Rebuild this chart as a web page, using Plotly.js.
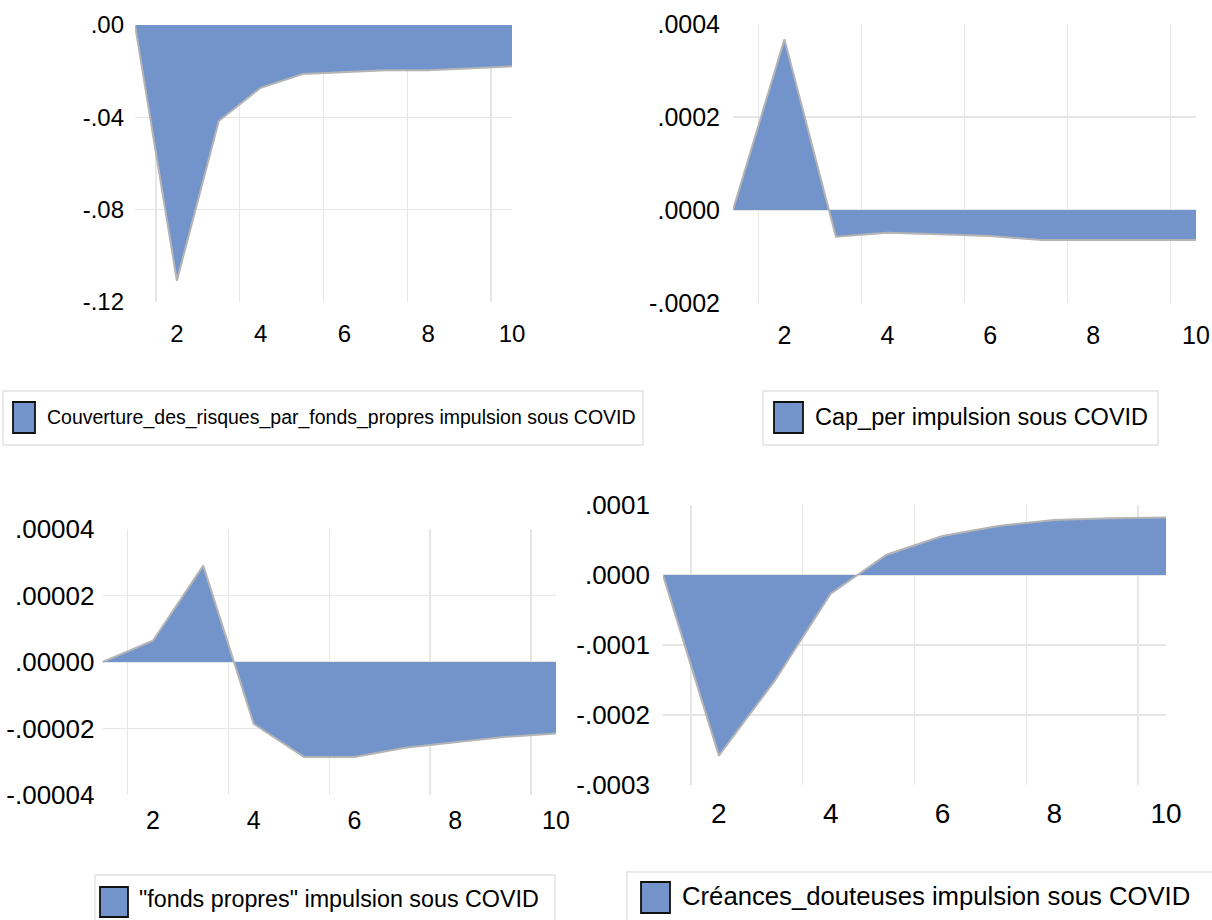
<!DOCTYPE html>
<html>
<head>
<meta charset="utf-8">
<script src="https://cdn.plot.ly/plotly-3.0.1.min.js"></script>
<style>html,body{margin:0;padding:0;background:#fff;}#chart{width:1212px;height:920px;}</style>
</head>
<body>
<div id="chart"></div>
<script>
// ---------- data ----------
var periods = [1, 2, 3, 4, 5, 6, 7, 8, 9, 10];

var couvertureValues = [0, -0.1108, -0.0416, -0.0272, -0.0212, -0.0205, -0.0196, -0.0196, -0.0189, -0.0179];
var capPerValues = [0, 0.000367, -0.0000574, -0.0000488, -0.0000523, -0.0000559, -0.0000645, -0.0000645, -0.0000645, -0.0000645];
var fondsPropresValues = [0, 0.0000064, 0.0000290, -0.0000186, -0.0000286, -0.0000286, -0.0000258, -0.0000241, -0.0000225, -0.0000215];
var creancesValues = [0, -0.000258, -0.000151, -0.0000266, 0.000029, 0.0000556, 0.000070, 0.0000787, 0.0000812, 0.0000821];

var seriesNames = [
  'Couverture_des_risques_par_fonds_propres impulsion sous COVID',
  'Cap_per impulsion sous COVID',
  '"fonds propres" impulsion sous COVID',
  'Créances_douteuses impulsion sous COVID'
];

var xTickVals = [2, 4, 6, 8, 10];
var xTickText = ['2', '4', '6', '8', '10'];
var xGridVals = [1.5, 3.5, 5.5, 7.5, 9.5];

var y1TickVals = [0, -0.04, -0.08, -0.12];
var y1TickText = ['.00', '-.04', '-.08', '-.12'];
var y2TickVals = [0.0004, 0.0002, 0, -0.0002];
var y2TickText = ['.0004', '.0002', '.0000', '-.0002'];
var y3TickVals = [0.00004, 0.00002, 0, -0.00002, -0.00004];
var y3TickText = ['.00004', '.00002', '.00000', '-.00002', '-.00004'];
var y4TickVals = [0.0001, 0, -0.0001, -0.0002, -0.0003];
var y4TickText = ['.0001', '.0000', '-.0001', '-.0002', '-.0003'];

// ---------- styling ----------
var W = 1212, H = 920;
function fx(px) { return px / W; }
function fy(py) { return 1 - py / H; }

var FILL = '#7394CB';
var EDGE = '#B4B4B4';
var GRID = '#E6E6E6';
var FONT = 'Liberation Sans, Arial, sans-serif';

function areaTrace(vals, xa, ya, name) {
  return {
    type: 'scatter', mode: 'lines', x: periods, y: vals,
    xaxis: xa, yaxis: ya, name: name, showlegend: false,
    fill: 'tozeroy', fillcolor: FILL,
    line: { color: EDGE, width: 2 }, hoverinfo: 'x+y'
  };
}

var data = [
  areaTrace(couvertureValues, 'x', 'y', seriesNames[0]),
  areaTrace(capPerValues, 'x2', 'y2', seriesNames[1]),
  areaTrace(fondsPropresValues, 'x3', 'y3', seriesNames[2]),
  areaTrace(creancesValues, 'x4', 'y4', seriesNames[3])
];

function xAxis(domain, anchor, size, standoff) {
  return {
    domain: domain, anchor: anchor, range: [1, 10],
    tickmode: 'array', tickvals: xTickVals, ticktext: xTickText,
    showgrid: false, zeroline: false, showline: false, ticks: '',
    ticklabelstandoff: standoff,
    tickfont: { family: FONT, size: size, color: '#000' },
    minor: { tickmode: 'array', tickvals: xGridVals, showgrid: true, gridcolor: GRID, gridwidth: 1.5, ticks: '' },
    fixedrange: true
  };
}
function yAxis(domain, anchor, range, tv, tt, size, standoff) {
  return {
    domain: domain, anchor: anchor, range: range,
    tickmode: 'array', tickvals: tv, ticktext: tt,
    showgrid: true, gridcolor: GRID, gridwidth: 1.5,
    zeroline: false, showline: false, ticks: '',
    ticklabelstandoff: standoff,
    tickfont: { family: FONT, size: size, color: '#000' },
    fixedrange: true
  };
}

var layout = {
  width: W, height: H,
  margin: { l: 0, r: 0, t: 0, b: 0 },
  paper_bgcolor: '#fff', plot_bgcolor: 'rgba(0,0,0,0)',
  showlegend: false,
  xaxis: xAxis([fx(135), fx(512)], 'y', 24, 15),
  yaxis: yAxis([fy(302), fy(25)], 'x', [-0.12, 0], y1TickVals, y1TickText, 24, 10),
  xaxis2: xAxis([fx(733), fx(1196)], 'y2', 25, 15),
  yaxis2: yAxis([fy(303), fy(24)], 'x2', [-0.0002, 0.0004], y2TickVals, y2TickText, 25, 12),
  xaxis3: xAxis([fx(102.5), fx(556)], 'y3', 25, 8),
  yaxis3: yAxis([fy(795), fy(529)], 'x3', [-0.00004, 0.00004], y3TickVals, y3TickText, 26, 7),
  xaxis4: xAxis([fx(663), fx(1166)], 'y4', 28, 9),
  yaxis4: yAxis([fy(785), fy(505)], 'x4', [-0.0003, 0.0001], y4TickVals, y4TickText, 26, 12),
  shapes: [],
  annotations: []
};

// legend boxes (drawn as shapes + text)
var legends = [
  { box: [3, 391, 643, 445], icon: [13, 402, 35, 433], tx: 45, ty: 417, size: 19.5, name: seriesNames[0] },
  { box: [763, 391, 1158, 445], icon: [774, 402, 803, 433], tx: 813, ty: 417, size: 23.5, name: seriesNames[1] },
  { box: [95, 875, 555, 925], icon: [100, 887, 128, 917], tx: 137, ty: 899, size: 23.3, name: seriesNames[2] },
  { box: [627, 872, 1215, 925], icon: [641, 882, 670, 913], tx: 680, ty: 896, size: 25.7, name: seriesNames[3] }
];
legends.forEach(function (lg) {
  layout.shapes.push({
    type: 'rect', xref: 'paper', yref: 'paper',
    x0: fx(lg.box[0]), x1: fx(lg.box[2]), y0: fy(lg.box[3]), y1: fy(lg.box[1]),
    line: { color: '#E2E2E2', width: 1.5 }, fillcolor: 'rgba(0,0,0,0)', layer: 'below'
  });
  layout.shapes.push({
    type: 'rect', xref: 'paper', yref: 'paper',
    x0: fx(lg.icon[0]), x1: fx(lg.icon[2]), y0: fy(lg.icon[3]), y1: fy(lg.icon[1]),
    line: { color: '#111', width: 1.8 }, fillcolor: FILL
  });
  layout.annotations.push({
    xref: 'paper', yref: 'paper', x: fx(lg.tx), y: fy(lg.ty),
    xanchor: 'left', yanchor: 'middle', showarrow: false,
    text: lg.name, font: { family: FONT, size: lg.size, color: '#000' }
  });
});

Plotly.newPlot('chart', data, layout, { displayModeBar: false, staticPlot: true });
</script>
</body>
</html>
